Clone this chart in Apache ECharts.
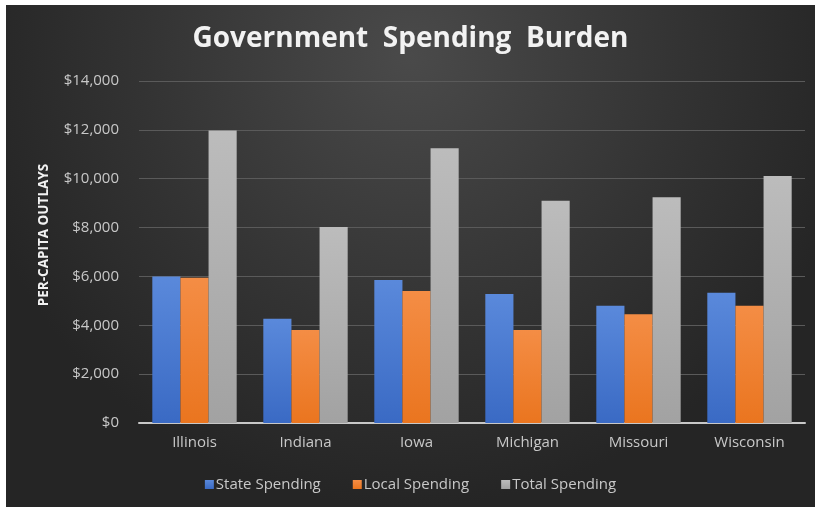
<!DOCTYPE html>
<html>
<head>
<meta charset="utf-8">
<script src="https://cdn.jsdelivr.net/npm/echarts@6/dist/echarts.min.js"></script>
<style>
  html, body { margin: 0; padding: 0; background: #ffffff; }
  #chart { position: absolute; left: 6px; top: 5px; width: 809px; height: 502px; }
</style>
</head>
<body>
<div id="chart"></div>
<script>
    // data
    var states = ['Illinois', 'Indiana', 'Iowa', 'Michigan', 'Missouri', 'Wisconsin'];
    var stateSpending = [6000, 4270, 5850, 5280, 4800, 5330];
    var localSpending = [5950, 3810, 5400, 3810, 4450, 4800];
    var totalSpending = [11970, 8020, 11250, 9100, 9240, 10110];
    var yTicks = [0, 2000, 4000, 6000, 8000, 10000, 12000, 14000];

    function grad(top, bottom) {
        return new echarts.graphic.LinearGradient(0, 0, 0, 1, [
            { offset: 0, color: top },
            { offset: 1, color: bottom }
        ]);
    }

    var myChart = echarts.init(document.getElementById('chart'));
    var option = {
        backgroundColor: new echarts.graphic.RadialGradient(0.5, 0.1, 0.9, [
            { offset: 0, color: '#4a4a4a' },
            { offset: 0.6, color: '#333333' },
            { offset: 1, color: '#252525' }
        ]),
        title: {
            text: 'Government  Spending  Burden',
            left: 'center',
            top: 15,
            textStyle: {
                color: '#f2f2f2',
                fontFamily: 'Open Sans',
                fontWeight: 'bold',
                fontSize: 28
            }
        },
        grid: {
            left: 133,
            right: 10,
            top: 76,
            bottom: 84
        },
        legend: {
            data: ['State Spending', 'Local Spending', 'Total Spending'],
            left: 'center',
            top: 467,
            itemWidth: 9,
            itemHeight: 9,
            itemGap: 32,
            icon: 'rect',
            textStyle: {
                color: '#c8c8c8',
                fontFamily: 'Open Sans',
                fontSize: 15,
                padding: [0, 0, 0, -3]
            }
        },
        xAxis: {
            type: 'category',
            data: states,
            axisTick: { show: false },
            axisLine: { lineStyle: { color: '#c8c8c8', width: 2 } },
            axisLabel: {
                color: '#c8c8c8',
                fontFamily: 'Open Sans',
                fontSize: 15,
                margin: 12
            }
        },
        yAxis: {
            type: 'value',
            min: yTicks[0],
            max: yTicks[yTicks.length - 1],
            interval: 2000,
            name: 'PER-CAPITA OUTLAYS',
            nameLocation: 'middle',
            nameRotate: 90,
            nameGap: 88,
            nameTextStyle: {
                color: '#f2f2f2',
                fontFamily: 'Open Sans',
                fontWeight: 'bold',
                fontSize: 13.5,
                padding: [0, 0, 0, 34]
            },
            axisLine: { show: false },
            axisTick: { show: false },
            splitLine: { lineStyle: { color: '#5a5a5a', width: 1 } },
            axisLabel: {
                color: '#c8c8c8',
                fontFamily: 'Open Sans',
                fontSize: 15,
                margin: 20,
                formatter: function (v) {
                    return '$' + v.toLocaleString('en-US');
                }
            }
        },
        series: [
            {
                name: 'State Spending',
                type: 'bar',
                data: stateSpending,
                barGap: '0%',
                barCategoryGap: '24%',
                itemStyle: { color: grad('#5a89db', '#3a6ac4') }
            },
            {
                name: 'Local Spending',
                type: 'bar',
                data: localSpending,
                itemStyle: { color: grad('#f48d45', '#ea751f') }
            },
            {
                name: 'Total Spending',
                type: 'bar',
                data: totalSpending,
                itemStyle: { color: grad('#bcbcbc', '#a2a2a2') }
            }
        ]
    };
    myChart.setOption(option);
</script>
</body>
</html>
